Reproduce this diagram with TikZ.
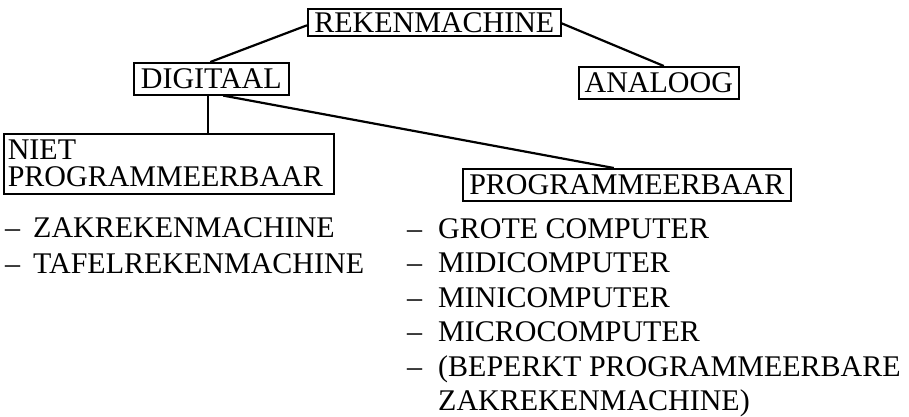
\documentclass[tikz,border=0pt]{standalone}
\usepackage{fontspec}
\setmainfont{Liberation Serif}
\begin{document}
\begin{tikzpicture}[x=1pt,y=-1pt,
  txt/.style={font=\fontsize{30}{27}\selectfont},
  box/.style={txt,draw,line width=1.6pt,inner sep=0pt,anchor=north west},
  item/.style={txt,anchor=base west,inner sep=0pt},
  link/.style={line width=2.2pt}]
\useasboundingbox (0,0) rectangle (909,416);
\node[box,minimum width=253pt,minimum height=27pt] (rek) at (307,8) {REKENMACHINE};
\node[box,minimum width=155pt,minimum height=32pt] (dig) at (133,62) {DIGITAAL};
\node[box,minimum width=160pt,minimum height=32pt] (ana) at (578,66) {ANALOOG};
\node[box,text width=322pt,align=left,minimum height=60pt,inner xsep=4pt,inner ysep=3pt] (niet) at (3,133) {NIET\\PROGRAMMEERBAAR};
\node[box,minimum width=328pt,minimum height=32pt] (prog) at (462,168) {PROGRAMMEERBAAR};
\coordinate (rl) at ([yshift=-3pt]rek.west);
\coordinate (rr) at ([yshift=-1pt]rek.east);
\coordinate (dv) at ([xshift=-3pt]dig.south);
\draw[link] (rl) -- ([xshift=-1pt]dig.north);
\draw[link] (rr) -- ([xshift=5pt]ana.north);
\draw[link] (dv) -- (dv |- niet.north);
\draw[link] ([xshift=12pt]dig.south) -- ([xshift=-13pt]prog.north);
\node[item] (a1) at (5,237) {–\hspace{13pt}ZAKREKENMACHINE};
\node[item] (a2) at (5,273) {–\hspace{13pt}TAFELREKENMACHINE};
\node[item] (b1) at (407,238) {–\hspace{16pt}GROTE COMPUTER};
\node[item] (b2) at (407,272.5) {–\hspace{16pt}MIDICOMPUTER};
\node[item] (b3) at (407,307) {–\hspace{16pt}MINICOMPUTER};
\node[item] (b4) at (407,341.5) {–\hspace{16pt}MICROCOMPUTER};
\node[item] (b5) at (407,376) {–\hspace{16pt}(BEPERKT PROGRAMMEERBARE};
\node[item] (b6) at (438,410) {ZAKREKENMACHINE)};
\end{tikzpicture}
\end{document}
